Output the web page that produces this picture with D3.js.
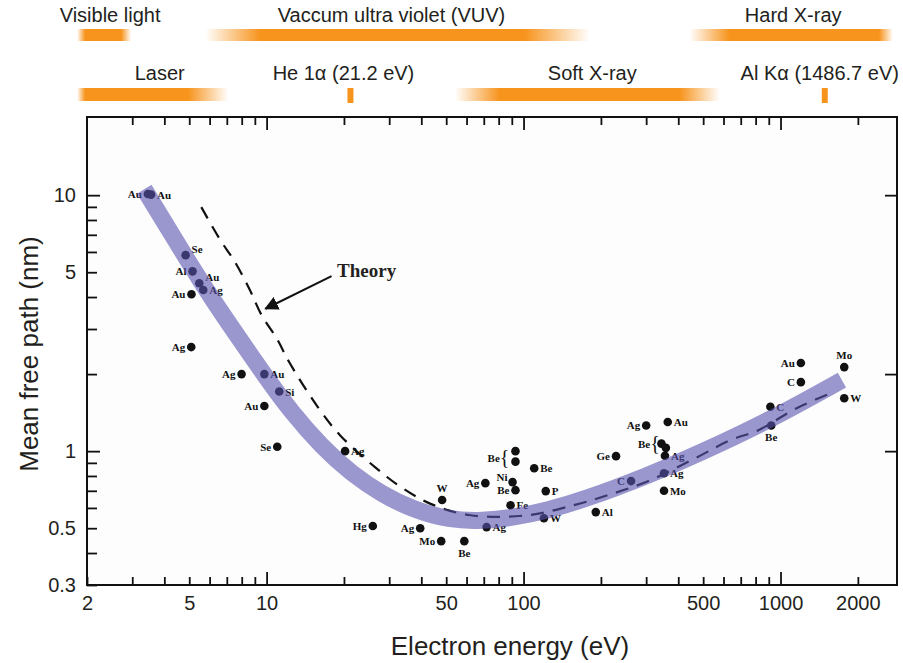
<!DOCTYPE html>
<html>
<head>
<meta charset="utf-8">
<script src="https://cdn.jsdelivr.net/npm/d3@7"></script>
<style>
  body { margin: 0; background: #fff; }
  text { font-family: "Liberation Sans", Arial, sans-serif; fill: #231f20; }
  .pt-label { font-family: "Liberation Serif", "DejaVu Serif", serif; font-weight: bold; font-size: 11px; fill: #111; }
</style>
</head>
<body>
<div id="chart"></div>
<script>
// Chart size
var svgWidth = 903;
var svgHeight = 663;

// plot frame
var margin = { top: 117, right: 6, bottom: 78, left: 87 };
var width = svgWidth - margin.left - margin.right;
var height = svgHeight - margin.top - margin.bottom;

// ---- data ----
// spectral ranges shown above the plot (eV)
var bandNames = ["Visible light", "Vaccum ultra violet (VUV)", "Hard X-ray", "Laser", "Soft X-ray"];
var bandLow = [1.83, 5.77, 442, 1.83, 54];
var bandHigh = [2.97, 181, 2740, 7.09, 580];
var bandRow = [0, 0, 0, 1, 1];

// single excitation lines (eV)
var lineNames = ["He 1α (21.2 eV)", "Al Kα (1486.7 eV)"];
var lineEnergy = [21.2, 1486.7];

// measured points: energy (eV), mean free path (nm), element
var ptEnergy = [3.45, 3.55, 4.84, 5.15, 5.47, 5.10, 5.67, 5.09, 7.99, 9.8, 11.2, 9.8, 11.0,
  20.2, 25.9, 39.6, 47.8, 48.2, 58.8, 71.8, 71, 90.6, 93, 93, 93, 110, 122, 89, 120,
  191, 229, 300, 364, 344, 358, 355, 352, 352, 262, 1200, 1200, 913, 920, 1770, 1770];
var ptMfp = [10.1, 10.05, 5.83, 5.04, 4.53, 4.10, 4.26, 2.55, 2.0, 2.0, 1.71, 1.5, 1.04,
  1.0, 0.51, 0.50, 0.445, 0.644, 0.445, 0.505, 0.75, 0.757, 0.704, 1.0, 0.91, 0.858, 0.698, 0.615, 0.547,
  0.578, 0.956, 1.26, 1.3, 1.07, 1.03, 0.96, 0.82, 0.70, 0.764, 2.21, 1.86, 1.49, 1.26, 2.13, 1.61];
var ptName = ["Au", "Au", "Se", "Al", "Au", "Au", "Ag", "Ag", "Ag", "Au", "Si", "Au", "Se",
  "Ag", "Hg", "Ag", "Mo", "W", "Be", "Ag", "Ag", "Ni", "Be", "", "Be", "Be", "P", "Fe", "W",
  "Al", "Ge", "Ag", "Au", "", "Be", "Ag", "Ag", "Mo", "C", "Au", "C", "C", "Be", "Mo", "W"];

// theory curve (dashed)
var theoryE = [5.57, 6.61, 7.5, 8.58, 9.56, 10.94, 12.3, 15.8, 19.3, 26.7, 33.4, 43.7, 62.1, 103.7,
  156.7, 212.8, 305, 474, 638, 820, 1155, 1540];
var theoryMfp = [8.98, 6.67, 5.52, 4.29, 3.4, 2.76, 2.21, 1.49, 1.155, 0.858, 0.723, 0.621, 0.562, 0.562,
  0.615, 0.673, 0.763, 0.947, 1.104, 1.208, 1.472, 1.67];

// "universal curve" highlighted band
var bandE = [3.34, 4.07, 4.87, 6.1, 7.99, 10, 12.5, 16.4, 21.5, 28.1, 36.8, 51.4, 69.2, 93,
  124, 170, 302, 485, 910, 1734];
var bandMfp = [10.55, 7.63, 5.67, 3.96, 2.67, 1.93, 1.42, 1.04, 0.813, 0.679, 0.593, 0.538, 0.533, 0.552,
  0.588, 0.644, 0.799, 0.982, 1.321, 1.894];

// axis ticks
var xTicks = [3, 4, 5, 6, 7, 8, 9, 10, 20, 30, 40, 50, 60, 70, 80, 90, 100,
  200, 300, 400, 500, 600, 700, 800, 900, 1000, 2000];
var xTickLabels = [2, 5, 10, 50, 100, 500, 1000, 2000];
var yTicks = [0.4, 0.5, 0.6, 0.7, 0.8, 0.9, 1, 2, 3, 4, 5, 6, 7, 8, 9, 10];
var yTickLabels = [0.3, 0.5, 1, 5, 10];

// ---- layout of labels (not data) ----
// where each point label sits relative to its dot
var ptSide = ["l", "r", "tr", "l", "tr", "l", "r", "l", "l", "r", "r", "l", "l",
  "r", "l", "l", "l", "t", "b", "r", "l", "tl", "l", "", "brace", "r", "r", "r", "r",
  "r", "l", "l", "r", "", "brace", "r", "r", "r", "l", "l", "l", "r", "b", "t", "r"];
var bandFade = [[8, 10], [55, 65], [40, 14], [8, 40], [45, 40]];
var bandLabelDx = [6, -6, 2, 7, 5];
var lineLabelDx = [-7, -5];

var svg = d3.select("#chart")
  .append("svg")
  .attr("width", svgWidth)
  .attr("height", svgHeight);

var x = d3.scaleLog().domain([2, 2840]).range([0, width]);
var y = d3.scaleLog().domain([0.3, 20.2]).range([height, 0]);

var orange = "#F7941D";
var defs = svg.append("defs");

// ---- spectral ranges on top ----
var rowText = [22, 80];
var rowBar = [29, 88];
var rowBarH = [12, 13];

bandNames.forEach(function(name, i) {
  var x0 = margin.left + x(bandLow[i]);
  var x1 = margin.left + x(bandHigh[i]);
  var w = x1 - x0;
  var g = defs.append("linearGradient").attr("id", "band" + i);
  var fin = bandFade[i][0] / w, fout = 1 - bandFade[i][1] / w;
  [[0, 0], [fin, 1], [fout, 1], [1, 0]].forEach(function(s) {
    g.append("stop").attr("offset", s[0]).attr("stop-color", orange).attr("stop-opacity", s[1]);
  });
  var r = bandRow[i];
  svg.append("rect")
    .attr("x", x0).attr("y", rowBar[r])
    .attr("width", w).attr("height", rowBarH[r])
    .attr("fill", "url(#band" + i + ")");
  svg.append("text")
    .attr("x", (x0 + x1) / 2 + bandLabelDx[i])
    .attr("y", rowText[r])
    .attr("text-anchor", "middle")
    .attr("font-size", 20)
    .text(name);
});

lineNames.forEach(function(name, i) {
  var cx = margin.left + x(lineEnergy[i]);
  svg.append("rect")
    .attr("x", cx - 3).attr("y", 88)
    .attr("width", 6).attr("height", 15)
    .attr("fill", orange);
  svg.append("text")
    .attr("x", cx + lineLabelDx[i])
    .attr("y", rowText[1])
    .attr("text-anchor", "middle")
    .attr("font-size", 20)
    .text(name);
});

// ---- plot ----
var chartGroup = svg.append("g")
  .attr("transform", `translate(${margin.left}, ${margin.top})`);

chartGroup.append("rect")
  .attr("width", width).attr("height", height)
  .attr("fill", "#fdfdfd");

// measured points
var points = ptEnergy.map(function(e, i) {
  return { e: e, v: ptMfp[i], name: ptName[i], side: ptSide[i] };
});

chartGroup.selectAll("circle.pt")
  .data(points)
  .enter()
  .append("circle")
  .attr("class", "pt")
  .attr("cx", d => x(d.e))
  .attr("cy", d => y(d.v))
  .attr("r", 4.3)
  .attr("fill", "#111");

points.forEach(function(d) {
  if (!d.name) return;
  var px = x(d.e), py = y(d.v);
  var t = chartGroup.append("text").attr("class", "pt-label");
  if (d.side == "l") {
    t.attr("x", px - 6).attr("y", py + 4).attr("text-anchor", "end").text(d.name);
  } else if (d.side == "tl") {
    t.attr("x", px - 5).attr("y", py - 1).attr("text-anchor", "end").text(d.name);
  } else if (d.side == "r") {
    t.attr("x", px + 6).attr("y", py + 4).text(d.name);
  } else if (d.side == "tr") {
    t.attr("x", px + 6).attr("y", py - 2).text(d.name);
  } else if (d.side == "t") {
    t.attr("x", px).attr("y", py - 8).attr("text-anchor", "middle").text(d.name);
  } else if (d.side == "b") {
    t.attr("x", px).attr("y", py + 16).attr("text-anchor", "middle").text(d.name);
  } else if (d.side == "brace") {
    // label shared by the two stacked dots
    t.attr("x", px - 6).attr("y", py).attr("text-anchor", "end");
    t.append("tspan").text(d.name);
    t.append("tspan").attr("font-size", 20).attr("font-weight", "normal").attr("dy", 2).text("{");
  }
});

// theory line
var lineGen = d3.line()
  .x(d => x(d[0]))
  .y(d => y(d[1]))
  .curve(d3.curveCatmullRom.alpha(0.5));

chartGroup.append("path")
  .datum(theoryE.map((e, i) => [e, theoryMfp[i]]))
  .attr("d", lineGen)
  .attr("fill", "none")
  .attr("stroke", "#111")
  .attr("stroke-width", 2.2)
  .attr("stroke-dasharray", "13,9");

// "Theory" label with arrow
defs.append("marker")
  .attr("id", "arrow")
  .attr("viewBox", "0 0 10 10")
  .attr("refX", 9).attr("refY", 5)
  .attr("markerWidth", 7).attr("markerHeight", 7)
  .attr("orient", "auto")
  .append("path")
  .attr("d", "M0,0 L10,5 L0,10 z")
  .attr("fill", "#111");

chartGroup.append("line")
  .attr("x1", x(17.9)).attr("y1", y(4.83))
  .attr("x2", x(9.9)).attr("y2", y(3.6))
  .attr("stroke", "#111")
  .attr("stroke-width", 2)
  .attr("marker-end", "url(#arrow)");

chartGroup.append("text")
  .attr("x", x(18.8)).attr("y", y(4.78))
  .style("font-family", "'Liberation Serif', 'DejaVu Serif', serif")
  .style("font-weight", "bold")
  .attr("font-size", 19)
  .attr("fill", "#111")
  .text("Theory");

// highlighted universal curve
var bandGen = d3.line()
  .x(d => x(d[0]))
  .y(d => y(d[1]))
  .curve(d3.curveBasis);

chartGroup.append("path")
  .datum(bandE.map((e, i) => [e, bandMfp[i]]))
  .attr("d", bandGen)
  .attr("fill", "none")
  .attr("stroke", "#5852af")
  .attr("stroke-opacity", 0.6)
  .attr("stroke-width", 17);

// ---- axes ----
var isMajor = v => Math.abs(Math.log10(v) - Math.round(Math.log10(v))) < 1e-9;

var bottomAxis = d3.axisBottom(x)
  .tickValues([2].concat(xTicks))
  .tickSizeInner(-8)
  .tickSizeOuter(0)
  .tickPadding(11)
  .tickFormat(d => xTickLabels.indexOf(d) >= 0 ? d : "");

var xAxisG = chartGroup.append("g")
  .attr("transform", `translate(0, ${height})`)
  .call(bottomAxis);

var topAxis = d3.axisTop(x)
  .tickValues(xTicks)
  .tickSizeInner(-8)
  .tickSizeOuter(0)
  .tickFormat("");

var topG = chartGroup.append("g").call(topAxis);

var leftAxis = d3.axisLeft(y)
  .tickValues([0.3].concat(yTicks))
  .tickSizeInner(-10)
  .tickSizeOuter(0)
  .tickPadding(11)
  .tickFormat(d => yTickLabels.indexOf(d) >= 0 ? d : "");

var yAxisG = chartGroup.append("g").call(leftAxis);

var rightAxis = d3.axisRight(y)
  .tickValues([1, 2, 10])
  .tickSizeInner(-12)
  .tickSizeOuter(0)
  .tickFormat("");

var rightG = chartGroup.append("g")
  .attr("transform", `translate(${width}, 0)`)
  .call(rightAxis);

// longer ticks at decades
xAxisG.selectAll(".tick line").attr("y2", d => isMajor(d) ? -13 : -8);
topG.selectAll(".tick line").attr("y2", d => isMajor(d) ? 13 : 8);
yAxisG.selectAll(".tick line").attr("x2", d => isMajor(d) ? 13 : 10);

[xAxisG, topG, yAxisG, rightG].forEach(function(g) {
  g.select(".domain").remove();
  g.selectAll(".tick line").attr("stroke", "#111").attr("stroke-width", 1.8);
  g.selectAll(".tick text")
    .attr("font-size", 20)
    .attr("fill", "#231f20")
    .style("font-family", "'Liberation Sans', Arial, sans-serif");
});

// frame
chartGroup.append("rect")
  .attr("width", width).attr("height", height)
  .attr("fill", "none")
  .attr("stroke", "#111")
  .attr("stroke-width", 2);

// axis titles
svg.append("text")
  .attr("x", 510)
  .attr("y", 655)
  .attr("text-anchor", "middle")
  .attr("font-size", 26)
  .text("Electron energy (eV)");

svg.append("text")
  .attr("transform", "rotate(-90)")
  .attr("x", -354)
  .attr("y", 38)
  .attr("text-anchor", "middle")
  .attr("font-size", 26)
  .text("Mean free path (nm)");
</script>
</body>
</html>
